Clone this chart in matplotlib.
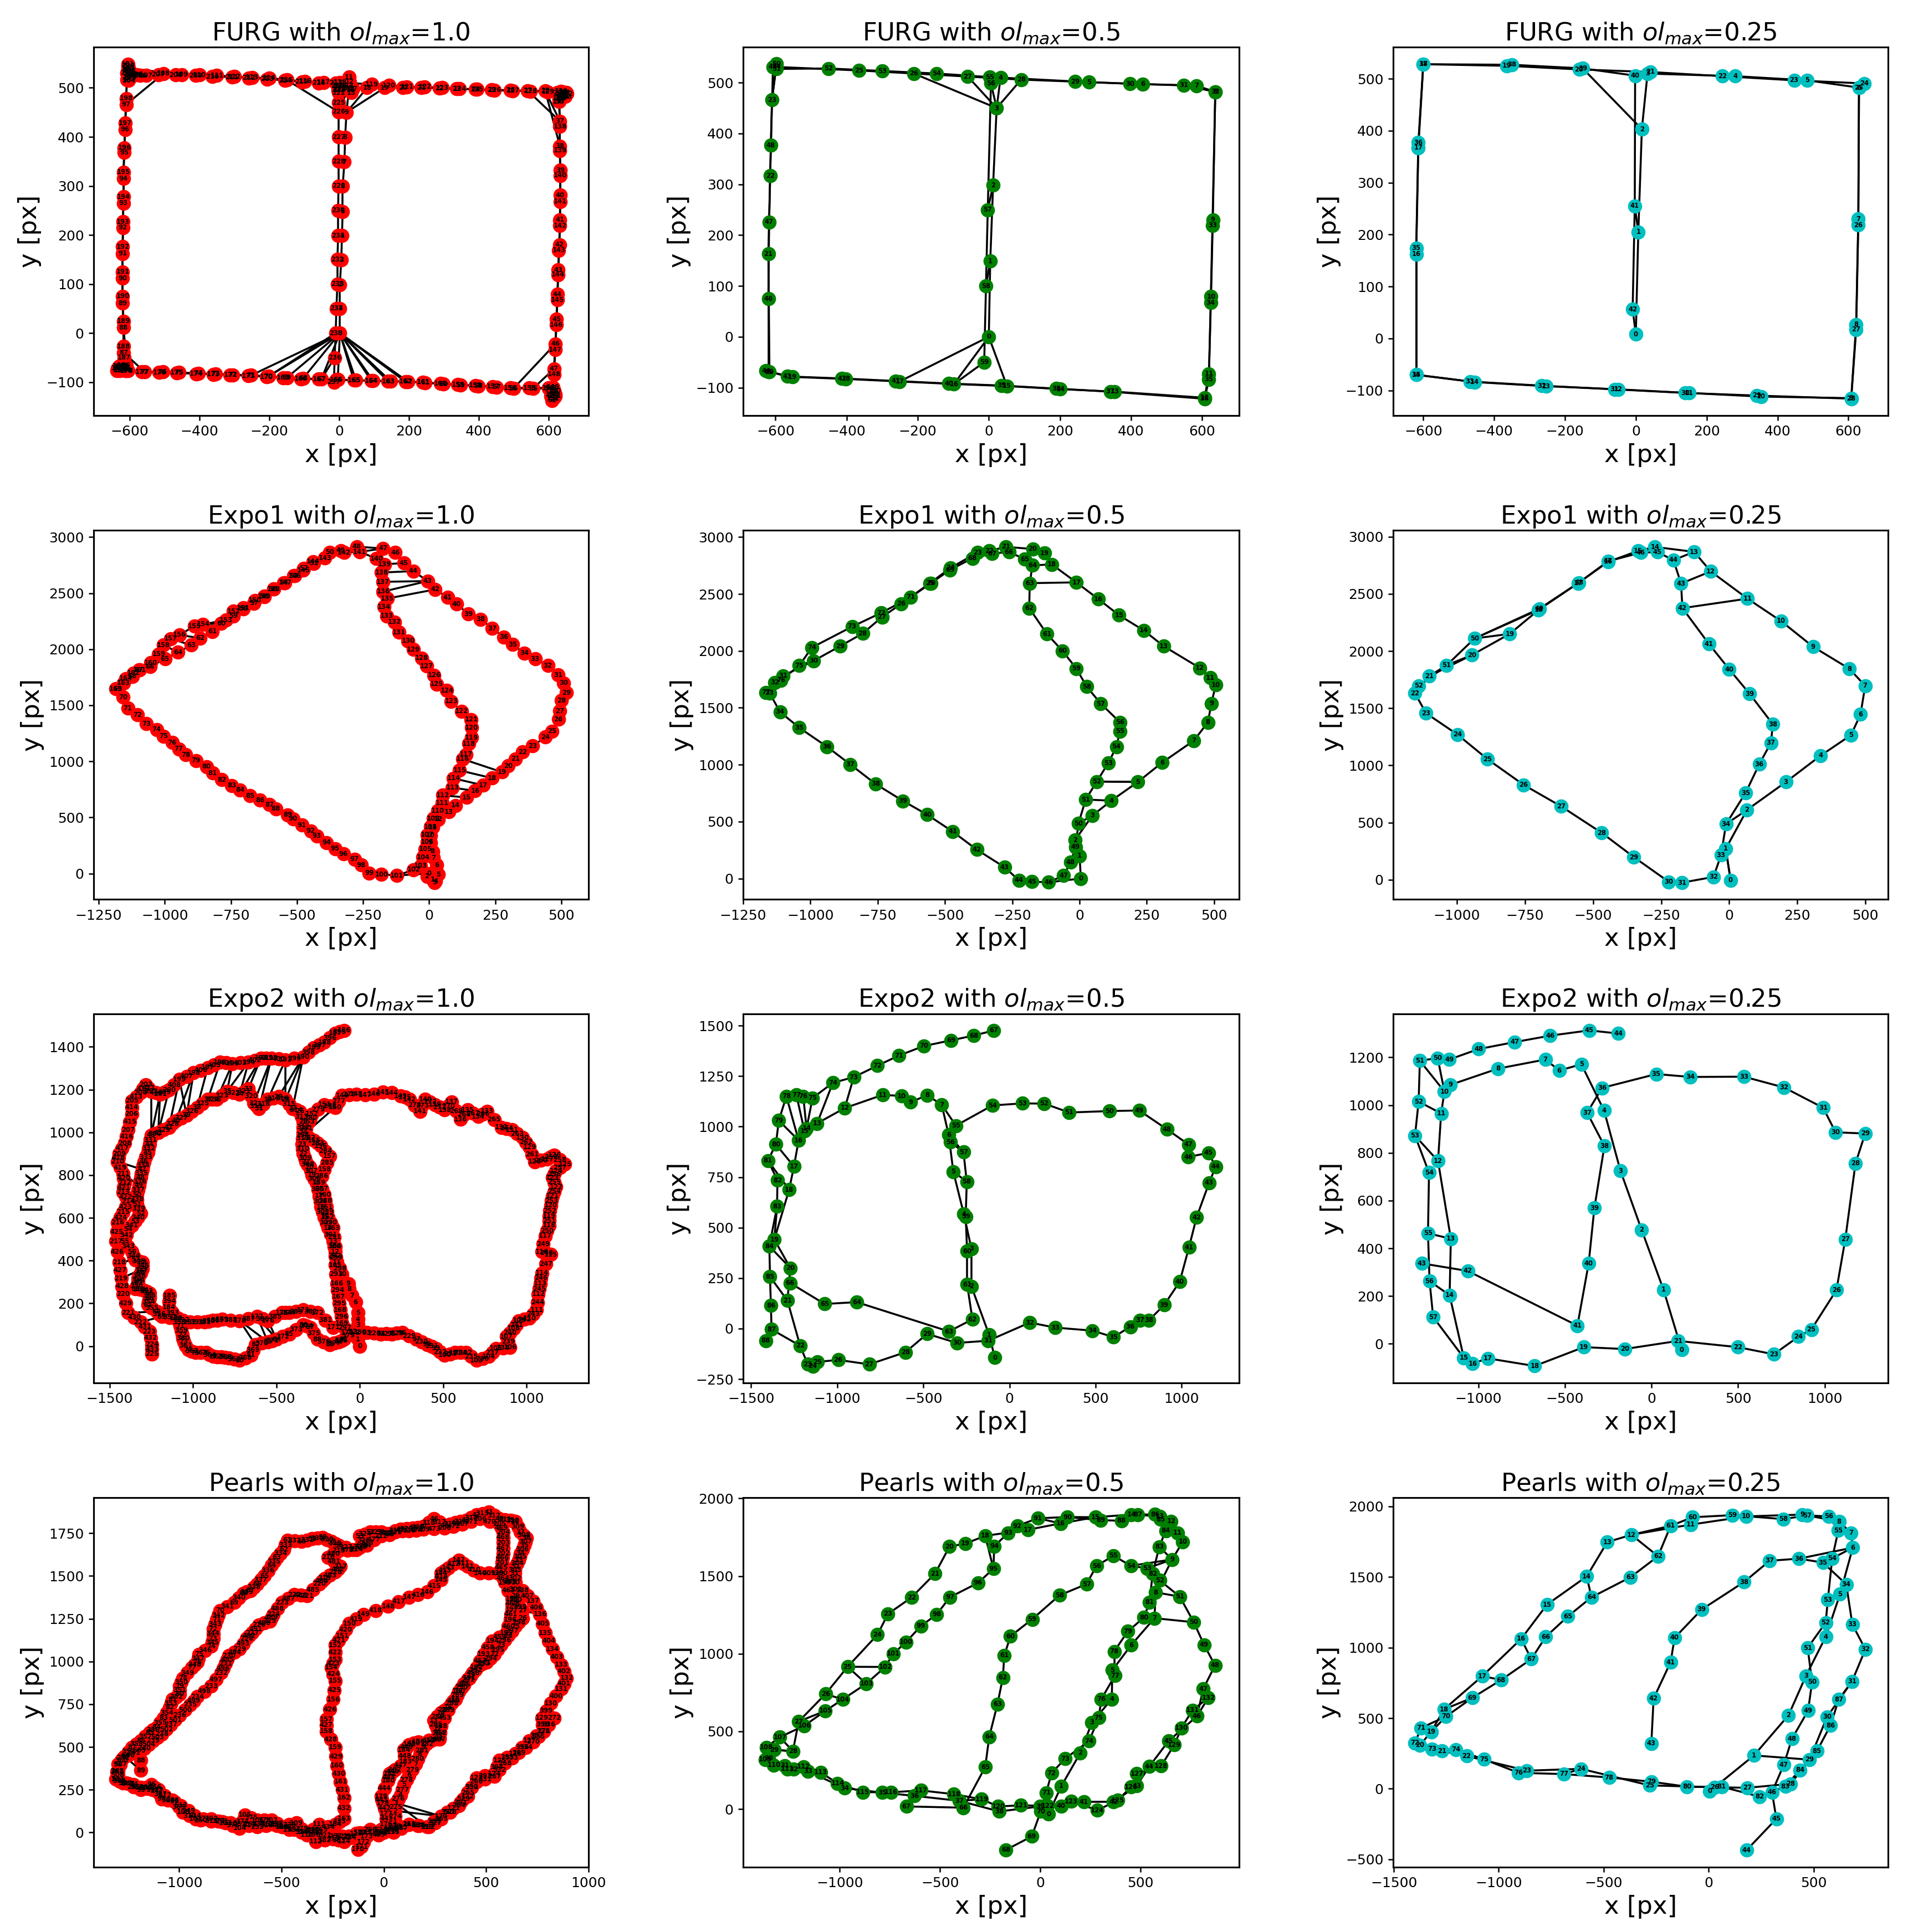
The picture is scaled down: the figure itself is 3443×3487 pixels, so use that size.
import matplotlib
matplotlib.use("Agg")
import matplotlib.pyplot as plt

W = 3443
H = 3487

# node positions, in the order of the graph
furg_10 = [(2,0),(2,50),(2,99),(6,149),(8,199),(10,248),(10,299),(15,349),(17,399),(21,450),
    (28,500),(28,522),(30,512),(30,505),(32,497),(35,490),(33,495),(40,498),
    (80,500),(130,500),(182,500),(235,500),(287,499),(337,498),(390,497),(437,496),(490,495),(540,494),(590,494),
    (625,490),(640,491),(650,490),(648,484),(640,482),(634,484),(630,478),(630,472),
    (632,432),(632,381),(633,332),(633,281),(632,231),(631,180),(627,129),(625,79),(622,28),(619,-22),(615,-73),
    (612,-112),(615,-120),(618,-125),(615,-132),(610,-137),(606,-128),(600,-113),
    (555,-113),(499,-113),(450,-110),(399,-108),(348,-106),(298,-104),(246,-101),(197,-99),(147,-98),(97,-97),(48,-96),(-4,-95),
    (-51,-94),(-103,-92),(-150,-91),(-202,-88),(-252,-86),(-305,-85),(-354,-83),(-403,-82),(-458,-80),(-505,-79),(-557,-79),(-605,-76),(-615,-75),
    (-622,-70),(-628,-68),(-632,-70),(-636,-76),(-625,-72),(-618,-68),(-610,-66),
    (-617,-40),(-618,11),(-620,61),(-620,112),(-620,162),(-619,215),(-618,265),(-618,315),(-615,368),(-613,415),(-610,466),(-608,516),
    (-607,530),(-605,540),(-605,548),(-603,540),(-600,535),(-598,528),(-600,520),(-580,527),
    (-552,525),(-503,529),(-451,527),(-400,526),(-350,525),(-300,523),(-249,521),(-200,520),(-150,516),(-98,513),(-45,511),(2,511),
    (93,507),(142,505),(194,502),(245,502),(295,500),(345,498),(395,497),(445,495),(497,494),(548,493),(597,492),
    (635,493),(645,490),(652,488),(648,482),(640,482),(635,480),(630,478),
    (630,472),(632,421),(632,372),(633,321),(633,268),(632,219),(629,169),(627,119),(625,68),(622,17),(619,-34),(615,-84),
    (612,-110),(616,-118),(618,-128),(612,-133),(608,-125),(600,-112),
    (545,-112),(490,-112),(440,-109),(390,-107),(340,-105),(290,-103),(240,-100),(190,-99),(140,-98),(92,-97),(42,-96),(-8,-95),
    (-58,-94),(-110,-93),(-160,-91),(-208,-89),(-260,-87),(-312,-85),(-360,-84),(-410,-83),(-465,-81),(-515,-80),(-565,-79),(-608,-77),(-612,-76),
    (-618,-72),(-624,-69),(-630,-67),(-634,-72),(-628,-76),(-622,-70),(-618,-66),(-616,-50),
    (-617,-27),(-618,24),(-620,75),(-620,125),(-620,176),(-619,227),(-618,278),(-618,328),(-615,378),(-613,428),(-610,478),(-607,530),
    (-604,545),(-601,536),(-598,528),(-600,520),(-603,515),(-585,526),
    (-570,525),(-518,527),(-468,526),(-411,525),(-363,523),(-307,522),(-258,520),(-206,518),(-155,515),(-107,512),(-58,510),(-10,510),
    (-5,505),(0,500),(2,497),(-3,495),(-2,490),(0,497),(3,505),(-2,470),
    (-2,451),(-2,400),(-2,350),(-2,300),(-3,250),(-3,199),(-5,150),(-5,100),(-8,50),(-10,0),(-13,-50),(-15,-100)]
furg_10_extra = [(0,71),(0,70),(0,69),(0,68),(0,67),(0,66),(235,70),(236,67),(0,65),(0,64),(0,63),(0,62),(0,162),(0,163),(0,164),(0,165),
    (226,115),(9,19),(9,18),(226,218),(9,118),(226,13),(37,27),(37,28),(38,28),(98,107),(97,108),(100,108),(102,109),
    (46,56),(47,55),(88,78),(87,77),(87,86),(226,9),(8,227),(7,228),(6,229),(5,230),(4,231),(3,232),(2,233),(1,234)]

furg_05 = [(0,0),(4,149),(12,298),(22,450),(33,510),(282,501),(433,497),(584,494),(637,482),(630,230),(625,79),(619,-73),(607,-120),
    (354,-108),(201,-103),(51,-97),(-98,-93),(-251,-88),(-402,-83),(-553,-79),(-617,-69),(-620,163),(-615,317),(-610,466),(-598,531),
    (-365,524),(-211,518),(-59,512),(91,506),(243,502),(397,498),(548,495),(637,482),(629,219),(624,67),(619,-84),(607,-122),
    (342,-108),(190,-102),(36,-96),(-112,-92),(-262,-87),(-413,-82),(-567,-78),(-627,-67),(-620,-69),(-620,75),(-618,226),(-613,377),
    (-607,531),(-597,537),(-598,527),(-451,528),(-299,523),(-147,518),(2,511),(6,499),(-3,250),(-8,100),(-13,-50)]
furg_05_extra = [(0,17),(0,16),(0,15),(59,16),(3,26),(3,27),(3,28),(3,55),(57,2),(58,1),(50,23)]

furg_025 = [(0,8),(7,205),(17,403),(33,510),(281,505),(483,497),(630,483),(628,230),(622,27),(608,-115),(353,-112),(150,-105),(-50,-98),
    (-253,-92),(-455,-84),(-620,-70),(-620,162),(-614,367),(-600,528),(-365,525),(-160,518),(41,513),(244,505),(447,497),(645,491),
    (630,483),(628,218),(622,17),(608,-116),(341,-110),(140,-105),(-60,-98),(-265,-91),(-468,-83),(-620,-70),(-620,174),(-614,377),
    (-600,528),(-350,527),(-150,520),(-2,506),(-3,255),(-9,56)]
furg_025_extra = [(1,41),(2,39),(0,42),(3,40),(3,21)]

expo1_10 = [(0,0),(13,-54),(-8,-26),(21,-80),(25,-68),(35,-7),(29,76),(17,140),(13,198),(5,276),(5,340),(13,413),(35,483),(74,551),
    (100,607),(142,678),(174,737),(205,787),(238,851),(275,905),(299,960),(326,1021),(354,1085),(392,1137),(440,1218),(464,1268),
    (489,1375),(495,1450),(500,1543),(519,1613),(509,1700),(488,1771),(449,1854),(401,1913),(360,1965),(316,2043),(282,2110),
    (239,2185),(195,2268),(148,2315),(104,2403),(70,2462),(23,2533),(-5,2608),(-60,2696),(-96,2769),(-128,2863),(-174,2898),
    (-274,2915),(-334,2880),(-375,2865),(-437,2766),(-475,2721),(-513,2655),(-550,2592),(-587,2537),(-624,2471),(-664,2410),
    (-703,2360),(-740,2296),(-787,2230),(-820,2157),(-866,2098),(-900,2036),(-950,1973),(-999,1914),(-1056,1845),(-1098,1814),
    (-1123,1758),(-1178,1647),(-1158,1573),(-1140,1474),(-1103,1415),(-1070,1335),(-1031,1283),(-1004,1224),(-972,1167),(-947,1110),
    (-921,1060),(-882,1006),(-842,952),(-819,897),(-784,838),(-747,784),(-715,746),(-678,694),(-640,654),(-604,614),(-580,578),
    (-535,524),(-515,489),(-481,432),(-448,380),(-425,335),(-388,276),(-356,222),(-324,175),(-282,128),(-257,76),(-227,5),(-180,-7),
    (-122,-17),(-59,33),(-33,68),(-23,146),(-15,217),(-7,281),(-7,345),(5,416),(15,490),(33,561),(49,629),(51,698),(88,766),(92,849),
    (115,920),(127,1021),(140,1061),(150,1159),(160,1211),(160,1302),(159,1373),(122,1447),(84,1536),(67,1631),(28,1688),(19,1768),
    (-9,1849),(-28,1920),(-59,1998),(-80,2074),(-114,2150),(-131,2242),(-160,2297),(-171,2379),(-159,2452),(-174,2514),(-175,2601),
    (-180,2684),(-168,2757),(-199,2809),(-263,2868),(-322,2861),(-394,2814),(-439,2781),(-476,2703),(-509,2655),(-545,2592),
    (-588,2537),(-624,2469),(-660,2434),(-703,2367),(-740,2339),(-768,2259),(-855,2223),(-888,2206),(-944,2128),(-978,2095),
    (-1005,2038),(-1023,1956),(-1053,1880),(-1096,1814),(-1119,1788),(-1156,1700),(-1148,1738),(-1186,1647)]
expo1_10_extra = [(15,112),(16,113),(17,114),(18,115),(19,116),(42,135),(43,136),(43,137),(44,138),(45,139),(63,157),(62,156),
    (64,158),(65,159),(60,154),(59,152),(0,101),(47,141),(165,69)]

expo1_05 = [(5,0),(0,200),(-17,337),(48,554),(118,684),(217,849),(307,1019),(425,1212),(477,1373),(490,1538),(506,1701),(485,1764),
    (447,1850),(313,2041),(238,2181),(147,2313),(70,2455),(-12,2602),(-103,2760),(-130,2858),(-174,2895),(-273,2914),(-335,2879),
    (-378,2865),(-479,2730),(-556,2595),(-663,2413),(-734,2297),(-806,2153),(-890,2041),(-988,1913),(-1102,1780),(-1132,1722),
    (-1152,1631),(-1113,1464),(-1042,1326),(-939,1159),(-852,1003),(-758,831),(-656,682),(-566,561),(-471,412),(-382,254),(-279,100),
    (-225,-16),(-177,-28),(-115,-33),(-59,26),(-33,144),(-15,277),(-4,484),(23,694),(64,852),(107,1015),(137,1157),(150,1294),
    (151,1371),(79,1536),(27,1685),(-12,1845),(-63,1999),(-121,2148),(-187,2376),(-185,2595),(-175,2751),(-204,2806),(-262,2869),
    (-325,2855),(-398,2814),(-482,2711),(-552,2595),(-628,2471),(-737,2334),(-845,2213),(-995,2029),(-1041,1871),(-1110,1743),(-1166,1634)]
expo1_05_extra = [(0,46),(4,51),(5,52),(5,52),(17,63),(18,64),(27,72),(75,30),(3,50),(33,77),(21,66)]

expo1_025 = [(5,-3),(-13,271),(65,611),(208,855),(335,1085),(447,1265),(482,1447),(499,1696),(441,1845),(308,2037),(190,2262),(67,2458),
    (-68,2696),(-129,2867),(-273,2910),(-335,2875),(-445,2780),(-555,2593),(-700,2360),(-806,2150),(-945,1965),(-1102,1780),(-1154,1630),
    (-1113,1456),(-998,1270),(-888,1055),(-755,830),(-618,643),(-468,410),(-350,198),(-222,-18),(-174,-25),(-58,25),(-30,217),(-12,487),
    (60,760),(110,1010),(153,1198),(160,1360),(75,1625),(0,1840),(-75,2063),(-172,2375),(-177,2590),(-205,2795),(-264,2865),(-325,2860),
    (-445,2785),(-552,2598),(-697,2370),(-935,2110),(-1038,1875),(-1140,1695)]
expo1_025_extra = [(2,34),(11,42),(12,43),(13,44),(18,50),(19,50),(20,51),(21,51),(14,46),(0,1)]

# first run of the red Expo2 panel, then the second one
expo2_10_a = [(0,0),(-11,32),(-15,63),(-11,100),(-11,125),(-11,156),(-25,206),(-47,237),(-64,268),(-68,293),(-106,336),(-138,392),
    (-148,441),(-159,491),(-191,553),(-212,603),(-233,652),(-244,702),(-259,764),(-286,801),(-301,838),(-322,861),(-339,900),(-345,944),
    (-339,999),(-339,1049),(-360,1099),(-403,1111),(-445,1154),(-487,1167),(-551,1154),(-604,1111),(-636,1136),(-667,1204),(-720,1179),
    (-795,1192),(-858,1154),(-911,1154),(-975,1117),(-1038,1080),(-1102,1055),(-1144,1024),(-1208,999),(-1250,987),(-1261,944),
    (-1271,906),(-1293,863),(-1303,826),(-1314,789),(-1324,751),(-1335,708),(-1335,665),(-1314,621),(-1346,584),(-1388,547),(-1409,491),
    (-1367,441),(-1346,404),(-1303,392),(-1303,361),(-1314,342),(-1329,317),(-1329,295),(-1346,268),(-1293,262),(-1261,249),(-1261,224),
    (-1271,193),(-1218,162),(-1187,138),(-1091,131),(-1076,94),(-1064,53),(-1055,20),(-1028,-17),(-985,-30),(-922,-30),(-879,-48),
    (-830,-50),(-784,-55),(-720,-67),(-653,-42),(-625,7),(-551,20),(-498,32),(-424,57),(-339,100),(-297,88),(-254,32),(-180,7),(-127,20),
    (-95,32),(-42,69),(42,63),(127,57),(191,57),(254,63),(339,32),(403,7),(456,-11),(509,-42),(572,-30),(636,-30),(699,-67),(773,-48),
    (816,-11),(901,-5),(879,45),(922,82),(954,119),(1017,131),(1060,169),(1070,243),(1081,293),(1091,342),(1144,429),(1091,441),(1112,516),
    (1134,565),(1134,609),(1144,658),(1155,702),(1176,745),(1155,789),(1176,820),(1229,851),(1166,894),(1123,875),(1049,863),(1017,931),
    (975,975),(911,1012),(848,1024),(763,1099),(710,1074),(646,1105),(604,1061),(551,1142),(509,1105),(450,1130),(392,1154),(360,1099),
    (297,1154),(245,1170),(191,1185),(138,1188),(85,1179),(32,1175),(-21,1179),(-106,1173),(-148,1117),(-212,1130),(-286,1086),(-307,1049),
    (-339,987),(-275,962),(-233,937),(-180,888),(-212,826),(-244,764),(-212,708),(-201,652),(-191,603),(-159,553),(-148,466),(-148,379),
    (-138,293),(-127,231),(-117,169),(-106,107),(-74,63),(-159,88),(-254,156),(-339,169),(-424,156),(-466,156),(-551,119),(-615,138),
    (-720,119),(-826,125),(-880,120),(-932,113),(-1017,113),(-1102,131),(-1144,181),(-1140,237)]
expo2_10_b = [(-95,1477),(-148,1464),(-212,1421),(-275,1396),(-339,1353),(-445,1340),(-530,1347),(-593,1347),(-667,1328),(-763,1322),
    (-837,1328),(-911,1303),(-996,1278),(-1081,1247),(-1144,1198),(-1197,1179),(-1250,1192),(-1282,1223),(-1314,1185),(-1367,1148),
    (-1367,1086),(-1388,1012),(-1409,950),(-1441,900),(-1451,863),(-1420,807),(-1409,764),(-1420,720),(-1388,677),(-1420,627),(-1451,578),
    (-1462,491),(-1441,392),(-1430,317),(-1420,243),(-1388,156),(-1314,113),(-1261,69),(-1246,7),(-1246,-36)]
expo2_10_ab = [(27,4),(28,4),(28,5),(29,4),(30,5),(31,6),(32,6),(33,7),(34,7),(34,8),(35,8),(35,9),(36,9),(37,10),(38,11),(39,12),(40,12),
    (39,13),(41,13),(42,14),(42,15),(43,15),(43,16),(47,24),(49,25),(57,32),(59,33),(68,35),(69,36)]
expo2_10_aa = [(178,83),(177,83),(177,84),(176,84),(178,82),(50,52),(150,154)]
# more nodes of the same bands, traced by eye from the crop of that panel
expo2_10_more = [(85,60),(160,58),(222,60),(296,48),(370,20),(430,0),(482,-28),(540,-36),(604,-30),(667,-48),(735,-58),(795,-30),(858,-8),(890,20),
    (900,62),(938,100),(985,125),(1038,150),(1065,205),(1075,268),(1086,318),(1115,385),(1118,435),(1100,478),(1123,540),(1134,587),(1139,633),
    (1150,680),(1165,723),(1165,767),(1165,805),(1200,835),(1198,872),(1145,885),(1086,869),(1033,897),(996,953),(943,993),(880,1018),(805,1060),
    (736,1086),(678,1090),(625,1083),(577,1100),(530,1123),(478,1118),(421,1142),(376,1126),(328,1127),(270,1165),(-63,1176),(-127,1145),(-180,1123),
    (-249,1108),(-297,1067),(-323,1018),(-307,975),(-254,950),(-206,912),(-196,857),(-228,795),(-228,736),(-206,680),(-196,628),(-175,578),(-153,510),
    (-148,422),(-143,336),(-132,262),(-122,200),(-111,138),(-90,85),(-120,364),(-143,416),(-153,466),(-175,522),(-201,578),(-222,628),(-238,677),
    (-251,733),(-272,782),(-293,820),(-312,850),(-330,880),(-342,922),(-342,972),(-339,1024),(-350,1074),(-381,1105),(-424,1132),(-466,1160),(-519,1160),
    (-578,1132),(-620,1123),(-652,1170),(-693,1192),(-757,1185),(-826,1173),(-885,1154),(-943,1135),(-1006,1098),(-1070,1067),(-1123,1040),(-1176,1012),
    (-1229,993),(-1256,965),(-1266,925),(-1282,885),(-1298,845),(-1308,808),(-1319,770),(-1330,730),(-1335,686),(-1325,643),(-1330,602),(-1367,565),
    (-1398,519),(-1388,466),(-1356,422),(-1325,398),(-1303,376),(-1308,352),(-1322,330),(-1329,306),(-1337,282),(-1320,265),(-1277,256),(-1261,236),
    (-1266,208),(-1245,178),(-1202,150),(-1140,135),(-1083,112),(-1070,74),(-1060,36),(-1042,2),(-1006,-24),(-953,-30),(-900,-40),(-855,-50),(-807,-52),
    (-752,-61),(-686,-55),(-639,-18),(-588,14),(-525,26),(-461,45),(-382,78),(-318,94),(-275,60),(-217,20),(-153,14),(-111,26),(-68,50),(0,66),
    (-206,122),(-296,162),(-382,162),(-445,156),(-508,138),(-583,128),(-667,128),(-773,122),(-853,122),(-906,116),(-975,113),(-1060,122),(-1123,156),(-1143,210),
    (-121,1470),(-180,1442),(-243,1408),(-307,1375),(-392,1346),(-487,1343),(-561,1347),(-630,1337),(-715,1325),(-800,1325),(-874,1315),(-953,1290),(-1038,1262),
    (-1112,1222),(-1170,1188),(-1223,1185),(-1266,1207),(-1298,1204),(-1340,1166),(-1367,1117),(-1378,1049),(-1398,981),(-1425,925),(-1446,881),(-1436,835),
    (-1414,785),(-1414,742),(-1404,698),(-1404,652),(-1435,602),(-1456,535),(-1452,442),(-1436,355),(-1425,280),(-1404,200),(-1351,134),(-1288,91),(-1253,38),(-1246,-15)]

expo2_05 = [(-85,-144),(-118,-31),(-221,209),(-221,396),(-265,567),(-326,777),(-353,959),(-393,1108),(-478,1156),(-573,1121),(-627,1152),
    (-736,1157),(-956,1092),(-1117,1016),(-1178,991),(-1190,978),(-1224,932),(-1251,803),(-1279,688),(-1365,441),(-1272,300),(-1289,139),
    (-1215,-85),(-1171,-177),(-1142,-186),(-1115,-165),(-994,-155),(-814,-177),(-604,-117),(-478,-26),(-305,-71),(-123,-60),(118,30),(265,5),
    (481,-10),(604,-42),(701,9),(757,42),(810,42),(898,117),(988,232),(1042,402),(1086,551),(1159,722),(1197,802),(1155,870),(1038,850),
    (1040,911),(914,987),(753,1080),(579,1077),(347,1070),(202,1114),(74,1115),(-99,1105),(-311,1005),(-344,924),(-267,874),(-248,728),
    (-254,555),(-246,383),(-246,219),(-215,46),(-351,-14),(-887,131),(-1073,122),(-1274,226),(-91,1476),(-208,1451),(-340,1427),(-497,1399),
    (-642,1352),(-766,1302),(-904,1245),(-1025,1217),(-1143,1142),(-1197,1150),(-1237,1157),(-1295,1150),(-1339,1030),(-1356,912),(-1402,832),
    (-1347,735),(-1349,605),(-1394,408),(-1390,257),(-1385,114),(-1381,-4),(-1415,-60)]
expo2_05_breaks = [66,87]
expo2_05_extra = [(12,73),(13,74),(14,75),(14,76),(15,77),(16,78),(16,79),(17,80),(18,81),(19,83),(20,84),(21,85),(22,87),(7,55),(6,57),(5,58)]

expo2_025 = [(174,-25),(69,227),(-57,477),(-179,724),(-274,977),(-405,1171),(-533,1145),(-613,1191),(-886,1153),(-1161,1085),(-1196,1057),
    (-1215,965),(-1233,766),(-1159,440),(-1166,203),(-1084,-59),(-1033,-83),(-946,-61),(-675,-93),(-391,-14),(-155,-22),(153,12),(498,-14),
    (706,-44),(849,30),(923,60),(1068,225),(1119,438),(1178,756),(1234,881),(1063,886),(991,989),(765,1074),(534,1119),(225,1118),(27,1130),
    (-286,1072),(-372,968),(-272,829),(-330,569),(-363,337),(-428,76),(-1061,305),(-1327,337),(-192,1300),(-360,1313),(-585,1291),(-790,1264),
    (-998,1235),(-1168,1191),(-1235,1197),(-1338,1186),(-1345,1015),(-1366,872),(-1285,717),(-1291,463),(-1282,263),(-1261,112)]
expo2_025_breaks = [43]
expo2_025_extra = [(10,50),(10,51),(11,52),(12,53),(13,55),(14,56),(15,57)]

# first run of the red Pearls panel, then the second one
pearls_10_a = [(47,9),(55,64),(55,126),(59,172),(81,219),(98,281),(124,335),(155,398),(176,460),(193,499),(228,537),(271,553),(262,607),
    (245,654),(280,700),(314,731),(349,778),(366,825),(392,871),(427,918),(470,980),(501,995),(539,1042),(573,1096),(608,1151),(642,1205),
    (677,1252),(677,1298),(642,1337),(642,1384),(642,1461),(639,1516),(642,1555),(660,1593),(668,1632),(686,1679),(698,1722),(668,1756),
    (642,1818),(617,1826),(565,1834),(513,1873),(452,1857),(401,1826),(349,1811),(297,1795),(245,1834),(193,1788),(142,1780),(81,1772),
    (29,1741),(-14,1756),(-66,1756),(-117,1733),(-83,1679),(-152,1655),(-221,1679),(-256,1702),(-299,1725),(-351,1717),(-402,1702),(-471,1710),
    (-489,1655),(-523,1609),(-549,1562),(-584,1500),(-618,1454),(-653,1415),(-687,1399),(-731,1345),(-800,1298),(-817,1244),(-834,1190),
    (-834,1135),(-843,1089),(-903,1042),(-912,995),(-938,964),(-981,902),(-998,856),(-998,809),(-1033,778),(-1047,731),(-1076,669),(-1110,615),
    (-1145,584),(-1188,537),(-1231,498),(-1188,421),(-1188,363),(-1266,444),(-1300,398),(-1309,312),(-1275,289),(-1223,281),(-1188,250),
    (-1136,281),(-1102,250),(-1085,196),(-1024,180),(-981,118),(-920,79),(-843,79),(-774,56),(-705,25),(-679,102),(-618,71),(-549,71),(-497,33),
    (-428,56),(-376,-14),(-316,48),(-333,-53),(-247,-37),(-195,-53),(-135,-6),(-48,2),(47,2),(124,48),(211,33),(280,95),(340,141),(409,211),
    (452,320),(539,343),(565,421),(642,460),(711,537),(780,592),(772,669),(815,755),(867,840),(893,902),(867,980),(824,1073),(789,1166),
    (763,1275),(728,1353),(677,1415),(556,1516),(470,1516),(409,1555),(366,1593),(314,1547),(280,1516),(280,1477),(211,1407),(124,1376),
    (21,1322),(-100,1275),(-169,1221),(-204,1151),(-238,1096),(-238,1011),(-256,964),(-238,887),(-247,778),(-281,662),(-281,592),(-238,498),
    (-230,390),(-212,297),(-195,203),(-195,79),(-238,48),(-307,17),(-394,2),(-480,33),(-566,48),(-653,48)]
pearls_10_b = [(-126,-99),(-109,-84),(-100,-57),(-83,-22),(-14,-6),(47,2),(12,48),(12,110),(-5,172),(-14,211),(21,304),(29,343),(55,367),
    (107,413),(98,483),(124,514),(168,530),(271,545),(280,623),(314,716),(366,825),(418,902),(452,964),(487,1042),(530,1120),(599,1166),
    (617,1244),(625,1306),(625,1368),(591,1461),(573,1516),(577,1578),(582,1632),(582,1694),(582,1756),(565,1803),(470,1834),(383,1803),
    (297,1780),(193,1772),(124,1764),(55,1764),(-14,1733),(-83,1694),(-135,1655),(-221,1648),(-273,1609),(-212,1555),(-238,1523),(-290,1485),
    (-316,1454),(-376,1384),(-437,1391),(-497,1345),(-541,1275),(-558,1236),(-610,1213),(-644,1166),(-670,1135),(-705,1073),(-756,1034),
    (-774,988),(-796,933),(-843,856),(-912,794),(-946,747),(-998,685),(-1041,631),(-1085,576),(-1128,537),(-1171,491),(-1223,467),(-1275,436),
    (-1300,359),(-1300,312),(-1223,266),(-1154,258),(-1110,242),(-1033,188),(-955,126),(-895,71),(-791,64),(-705,48),(-618,33),(-532,48),
    (-463,17),(-342,-14),(-238,-22),(-169,-22),(-66,17),(38,17),(124,48),(219,33),(280,79),(366,157),(409,234),(452,297),(539,328),(591,405),
    (660,467),(729,530),(780,592),(832,669)]
pearls_10_aa = [(27,136),(3,119),(3,120),(2,120),(31,139)]
# more nodes of the same bands, traced by eye from the crop of that panel
pearls_10_more = [(52,36),(55,95),(57,150),(70,196),(90,250),(111,308),(140,366),(165,430),(185,480),(210,518),(250,545),(267,580),(253,630),(262,677),
    (297,715),(331,755),(358,802),(379,848),(410,895),(448,950),(485,988),(520,1018),(556,1069),(590,1124),(625,1178),(660,1228),(665,1318),(642,1360),
    (642,1422),(640,1488),(640,1535),(651,1574),(664,1612),(677,1655),(692,1700),(683,1739),(655,1787),(630,1822),(591,1830),(539,1853),(482,1865),
    (426,1841),(375,1818),(323,1803),(271,1815),(219,1811),(167,1784),(111,1776),(55,1756),(8,1748),(-40,1756),(-92,1745),(-100,1706),(-118,1667),
    (-186,1667),(-238,1690),(-277,1713),(-325,1721),(-376,1710),(-436,1706),(-480,1682),(-506,1632),(-536,1585),(-566,1531),(-601,1477),(-635,1434),
    (-670,1407),(-709,1372),(-765,1321),(-808,1271),(-825,1217),(-834,1162),(-838,1112),(-873,1065),(-907,1018),(-925,980),(-960,933),(-990,879),
    (-998,832),(-1015,793),(-1040,755),(-1061,700),(-1093,642),(-1127,600),(-1166,560),(-1210,517),(-1248,471),(-1283,421),(-1305,355),(-1292,300),
    (-1249,285),(-1205,265),(-1162,265),(-1119,265),(-1093,223),(-1055,188),(-1002,149),(-950,98),(-881,79),(-808,67),(-739,40),(-692,63),(-648,86),
    (-583,71),(-523,52),(-462,45),(-402,21),(-346,17),(-325,-2),(-290,-45),(-221,-45),(-165,-30),(-91,-2),(0,2),(85,25),(167,40),(245,64),(310,118),
    (375,176),(430,265),(495,331),(552,382),(603,440),(676,498),(745,565),(776,630),(793,712),(841,797),(880,871),(880,941),(845,1026),(806,1120),
    (776,1220),(745,1314),(702,1384),(617,1465),(513,1516),(440,1535),(387,1574),(340,1570),(297,1531),(280,1496),(245,1442),(167,1391),(72,1349),
    (-40,1298),(-135,1248),(-186,1186),(-221,1123),(-238,1053),(-247,988),(-247,925),(-242,832),(-264,720),(-281,627),(-260,545),(-234,444),(-221,343),
    (-203,250),(-195,141),(-216,63),(-272,32),(-350,10),(-437,17),(-523,40),(-610,48),
    (-26,-14),(30,25),(12,80),(3,141),(-10,191),(3,258),(25,323),(42,355),(81,390),(102,448),(111,498),(146,522),(220,538),(275,584),(297,670),(340,770),
    (392,863),(435,933),(470,1003),(508,1081),(565,1143),(608,1205),(621,1275),(625,1337),(608,1414),(582,1488),(575,1547),(580,1605),(582,1663),(582,1725),
    (574,1780),(518,1818),(426,1818),(340,1791),(245,1776),(158,1768),(90,1764),(20,1748),(-48,1713),(-109,1675),(-178,1651),(-247,1628),(-243,1585),
    (-225,1539),(-264,1504),(-303,1470),(-346,1419),(-406,1387),(-467,1368),(-519,1310),(-550,1255),(-584,1225),(-627,1190),(-657,1150),(-687,1104),
    (-730,1053),(-765,1011),(-785,960),(-820,895),(-877,825),(-929,770),(-972,716),(-1020,658),(-1063,603),(-1106,556),(-1150,514),(-1197,479),(-1249,451),
    (-1288,397),(-1300,335),(-1262,289),(-1188,262),(-1132,250),(-1071,215),(-994,157),(-925,98),(-843,67),(-748,56),(-661,40),(-575,40),(-497,33),(-402,2),
    (-290,-18),(-204,-22),(-117,-2),(-14,17),(81,33),(171,40),(250,56),(323,118),(388,196),(430,265),(495,312),(565,366),(625,436),(695,498),(755,561),(806,630)]

pearls_05 = [(41,-32),(104,147),(199,361),(257,557),(356,708),(359,894),(453,1056),(569,1229),(575,1395),(657,1607),(710,1720),(684,1778),
    (652,1853),(596,1885),(453,1896),(275,1879),(101,1839),(-63,1798),(-275,1759),(-374,1709),(-453,1690),(-525,1516),(-643,1362),(-760,1256),
    (-812,1123),(-961,916),(-1071,741),(-1205,564),(-1234,373),(-1327,381),(-1354,326),(-1274,279),(-1231,256),(-1159,244),(-977,135),(-789,106),
    (-627,85),(-404,53),(-205,-15),(0,17),(104,19),(217,46),(365,46),(480,149),(543,274),(639,438),(781,598),(812,774),(871,925),(816,1058),
    (765,1203),(695,1368),(595,1472),(533,1550),(451,1566),(365,1631),(280,1566),(230,1448),(95,1376),(-41,1222),(-149,1113),(-180,989),
    (-187,846),(-214,675),(-255,465),(-275,270),(-384,9),(-668,17),(-172,-263),(-43,-176),(2,-15),(29,104),(56,232),(124,325),(243,438),(291,588),
    (304,708),(372,860),(368,1015),(436,1144),(517,1234),(544,1332),(560,1516),(593,1689),(625,1792),(600,1865),(571,1897),(485,1896),(404,1856),
    (300,1860),(135,1880),(-13,1872),(-115,1823),(-160,1778),(-230,1692),(-234,1547),(-311,1456),(-451,1364),(-517,1253),(-596,1178),(-670,1075),
    (-733,1000),(-774,915),(-868,807),(-986,706),(-1072,632),(-1177,537),(-1299,463),(-1367,398),(-1371,318),(-1329,284),(-1261,258),(-1182,272),
    (-1096,236),(-1011,166),(-886,109),(-745,108),(-596,120),(-431,96),(-293,63),(-210,17),(-97,24),(36,21),(154,50),(284,-7),(386,56),(451,142),
    (481,227),(602,277),(668,414),(704,523),(758,636),(837,716)]
pearls_05_breaks = [67]
pearls_05_extra = [(25,102),(25,103),(26,104),(27,105),(27,106),(28,107),(29,108),(28,29),(17,93),(18,94),(18,95),(8,51),(7,50),(9,53),(9,54),(9,83),
    (5,77),(4,76),(15,90),(16,91),(15,89),(132,46),(39,122),(37,119),(38,120)]

pearls_025 = [(6,-17),(216,236),(381,521),(464,800),(558,1076),(626,1377),(687,1707),(678,1811),(622,1892),(447,1941),(179,1928),(-85,1870),
    (-368,1798),(-483,1746),(-581,1503),(-770,1304),(-893,1061),(-1078,798),(-1261,562),(-1322,403),(-1376,308),(-1270,267),(-1153,232),
    (-866,128),(-608,141),(-281,24),(29,11),(185,7),(391,35),(481,206),(564,508),(683,759),(747,987),(685,1163),(656,1447),(545,1601),(431,1629),
    (291,1614),(169,1464),(-33,1269),(-162,1069),(-181,896),(-262,640),(-273,321),(181,-434),(323,-213),(302,-24),(358,169),(397,354),(474,553),
    (493,755),(472,998),(558,1176),(568,1338),(589,1631),(618,1829),(572,1928),(470,1935),(356,1909),(114,1937),(-77,1922),(-181,1861),(-241,1646),
    (-373,1497),(-558,1356),(-670,1221),(-776,1076),(-845,918),(-989,770),(-1126,644),(-1251,512),(-1371,430),(-1399,325),(-1317,282),(-1205,278),
    (-1070,208),(-905,113),(-689,104),(-474,80),(-273,50),(-104,15),(62,15),(243,-56),(366,17),(435,132),(516,267),(581,449),(620,633)]
pearls_025_breaks = [43]
pearls_025_extra = [(1,29),(6,36),(6,54),(12,62),(14,64),(16,67),(17,68),(18,69),(18,70),(19,70),(20,72),(9,57),(10,59),(11,60),(12,61),
    (87,31),(86,30),(26,81),(24,77),(23,76),(22,75),(25,79),(26,80)]

# axis ranges and ticks of every panel
furg_xt = [-600, -400, -200, 0, 200, 400, 600]
furg_yt = [-100, 0, 100, 200, 300, 400, 500]
expo1_xt = [-1250, -1000, -750, -500, -250, 0, 250, 500]
expo1_yt = [0, 500, 1000, 1500, 2000, 2500, 3000]

col_left = [169, 1341, 2514]
col_right = [1062, 2236, 3407]
row_top = [85, 957, 1830, 2703]
row_bottom = [750, 1623, 2496, 3370]

plt.rcParams["axes.linewidth"] = 0.75


def panel(row, col, nodes, extra, breaks, name, ol, color, xlim, ylim, xt, yt, more=[]):
    l = col_left[col] / W
    b = 1 - row_bottom[row] / H
    ax = plt.gcf().add_axes([l, b, (col_right[col] - col_left[col]) / W, (row_bottom[row] - row_top[row]) / H])
    xs = [p[0] for p in nodes]
    ys = [p[1] for p in nodes]
    for i in range(len(nodes) - 1):
        if i not in breaks:
            ax.plot([xs[i], xs[i + 1]], [ys[i], ys[i + 1]], color="black", lw=0.85, zorder=1)
    for i, j in extra:
        ax.plot([xs[i], xs[j]], [ys[i], ys[j]], color="black", lw=0.85, zorder=1)
    # nodes without an edge of their own come after the others
    xs = xs + [p[0] for p in more]
    ys = ys + [p[1] for p in more]
    ax.scatter(xs, ys, s=38, color=color, linewidths=0, zorder=2)
    for i in range(len(xs)):
        ax.text(xs[i], ys[i], str(i), fontsize=2.8, fontweight="bold", ha="center", va="center", zorder=3, clip_on=True)
    ax.set_xlim(xlim)
    ax.set_ylim(ylim)
    ax.set_xticks(xt)
    ax.set_yticks(yt)
    ax.tick_params(labelsize=6, length=2.2, width=0.6, pad=2)
    ax.set_xlabel("x [px]", fontsize=10.8, labelpad=2)
    ax.set_ylabel("y [px]", fontsize=10.8, labelpad=2)
    ax.set_title(name + " with $ol_{max}$=" + ol, fontsize=10.8, pad=3)


fig = plt.figure(figsize=(W / 300, H / 300))

panel(0, 0, furg_10, furg_10_extra, [], "FURG", "1.0", "r", (-703, 714), (-168, 583), furg_xt, furg_yt)
panel(0, 1, furg_05, furg_05_extra, [], "FURG", "0.5", "g", (-691, 704), (-155, 570), furg_xt, furg_yt)
panel(0, 2, furg_025, furg_025_extra, [], "FURG", "0.25", "c", (-685, 712), (-148.5, 561), furg_xt, furg_yt)

panel(1, 0, expo1_10, expo1_10_extra, [], "Expo1", "1.0", "r", (-1269, 603), (-229, 3061), expo1_xt, expo1_yt)
panel(1, 1, expo1_05, expo1_05_extra, [], "Expo1", "0.5", "g", (-1248, 593), (-182, 3060), expo1_xt, expo1_yt)
panel(1, 2, expo1_025, expo1_025_extra, [], "Expo1", "0.25", "c", (-1234, 583), (-170, 3056), expo1_xt[1:], expo1_yt)

n = len(expo2_10_a)
expo2_10_extra = expo2_10_aa + [(a, b + n) for a, b in expo2_10_ab]
panel(2, 0, expo2_10_a + expo2_10_b, expo2_10_extra, [n - 1], "Expo2", "1.0", "r", (-1595, 1371), (-172, 1554),
      [-1500, -1000, -500, 0, 500, 1000], [0, 200, 400, 600, 800, 1000, 1200, 1400], expo2_10_more)
panel(2, 1, expo2_05, expo2_05_extra, expo2_05_breaks, "Expo2", "0.5", "g", (-1546, 1333), (-269, 1558),
      [-1500, -1000, -500, 0, 500, 1000], [-250, 0, 250, 500, 750, 1000, 1250, 1500])
panel(2, 2, expo2_025, expo2_025_extra, expo2_025_breaks, "Expo2", "0.25", "c", (-1492, 1366), (-164, 1382),
      [-1000, -500, 0, 500, 1000], [0, 200, 400, 600, 800, 1000, 1200])

n = len(pearls_10_a)
panel(3, 0, pearls_10_a + pearls_10_b, pearls_10_aa, [n - 1], "Pearls", "1.0", "r", (-1418, 1000), (-203, 1958),
      [-1000, -500, 0, 500, 1000], [0, 250, 500, 750, 1000, 1250, 1500, 1750], pearls_10_more)
panel(3, 1, pearls_05, pearls_05_extra, pearls_05_breaks, "Pearls", "0.5", "g", (-1482, 991), (-374, 2005),
      [-1000, -500, 0, 500], [0, 500, 1000, 1500, 2000])
panel(3, 2, pearls_025, pearls_025_extra, pearls_025_breaks, "Pearls", "0.25", "c", (-1503, 855), (-555, 2061),
      [-1500, -1000, -500, 0, 500], [-500, 0, 500, 1000, 1500, 2000])

fig.savefig("out.png", dpi=300)
